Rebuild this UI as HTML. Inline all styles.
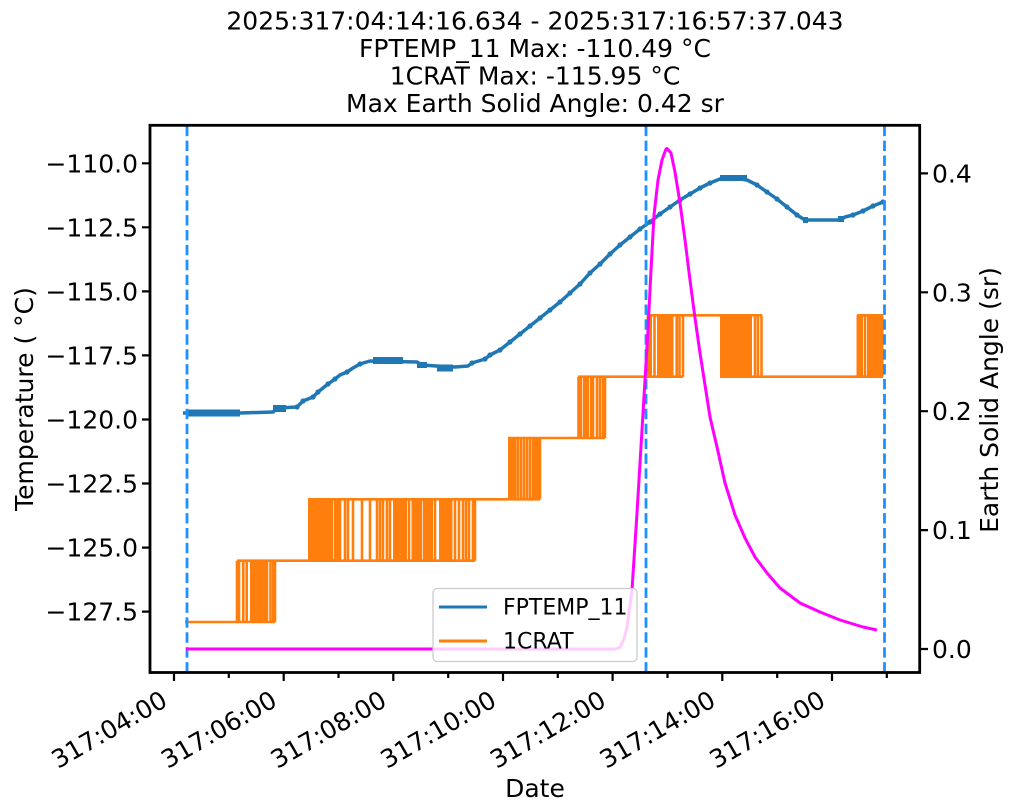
<!DOCTYPE html>
<html>
<head>
<meta charset="utf-8">
<style>
html,body{margin:0;padding:0;background:#fff;}
svg{display:block;}
text{font-family:"DejaVu Sans","Liberation Sans",sans-serif;fill:#000;}
</style>
</head>
<body>
<svg width="1011" height="811" viewBox="0 0 1011 811" xmlns="http://www.w3.org/2000/svg">
<rect x="0" y="0" width="1011" height="811" fill="#fff"/>

<!-- Title -->
<g font-size="25" text-anchor="middle">
<text x="535" y="29.5">2025:317:04:14:16.634 - 2025:317:16:57:37.043</text>
<text x="535" y="57">FPTEMP_11 Max: -110.49 °C</text>
<text x="535" y="84.5">1CRAT Max: -115.95 °C</text>
<text x="535" y="112">Max Earth Solid Angle: 0.42 sr</text>
</g>

<!-- FPTEMP_11 (blue) -->
<g fill="#1f77b4" stroke="none">
<rect x="188" y="409.5" width="52" height="7"/>
<rect x="273" y="405" width="13" height="7"/>
<rect x="373" y="357" width="30" height="7"/>
<rect x="417" y="362" width="10" height="6"/>
<rect x="437" y="364.5" width="16" height="7"/>
<rect x="720" y="175" width="27" height="6"/>
<rect x="803" y="217" width="5" height="6"/>
<rect x="838" y="216" width="6" height="6"/>
</g>
<polyline fill="none" stroke="#1f77b4" stroke-width="3.5" stroke-linejoin="round"
points="183,413 240,413 273,412 278,408 297,407 300,404 303,401 313,397 318,392 323,388 328,384 335,379 340,375 347,372 353,368 360,364 370,361 417,362 422,365 436,366 455,367 468,366 472,363 485,359 490,355 500,350 510,342 520,334 530,326 540,318 550,310 560,302 570,293 580,284 590,273 600,264 610,254 620,245 630,237 640,229 650,222 660,214 670,207 680,200 690,194 700,188 710,183 720,179 733,178 747,180 757,185 767,192 777,199 787,207 797,215 805,220 840,220 845,217 853,215 863,211 873,206 883,202"/>
<g fill="#1f77b4">
<circle cx="297" cy="407" r="2.6"/><circle cx="303" cy="401" r="2.6"/><circle cx="313" cy="397" r="2.6"/><circle cx="318" cy="392" r="2.6"/>
<circle cx="328" cy="384" r="2.6"/><circle cx="335" cy="379" r="2.6"/><circle cx="347" cy="372" r="2.6"/><circle cx="360" cy="364" r="2.6"/>
<circle cx="472" cy="363" r="2.6"/><circle cx="485" cy="359" r="2.6"/><circle cx="490" cy="355" r="2.6"/>
<circle cx="500" cy="350" r="2.6"/><circle cx="510" cy="342" r="2.6"/><circle cx="520" cy="334" r="2.6"/><circle cx="530" cy="326" r="2.6"/>
<circle cx="540" cy="318" r="2.6"/><circle cx="550" cy="310" r="2.6"/><circle cx="560" cy="302" r="2.6"/><circle cx="570" cy="293" r="2.6"/>
<circle cx="580" cy="284" r="2.6"/><circle cx="590" cy="273" r="2.6"/><circle cx="600" cy="264" r="2.6"/><circle cx="610" cy="254" r="2.6"/>
<circle cx="620" cy="245" r="2.6"/><circle cx="630" cy="237" r="2.6"/><circle cx="640" cy="229" r="2.6"/><circle cx="650" cy="222" r="2.6"/>
<circle cx="660" cy="214" r="2.6"/><circle cx="670" cy="207" r="2.6"/><circle cx="680" cy="200" r="2.6"/><circle cx="690" cy="194" r="2.6"/>
<circle cx="700" cy="188" r="2.6"/><circle cx="710" cy="183" r="2.6"/><circle cx="757" cy="185" r="2.6"/><circle cx="767" cy="192" r="2.6"/>
<circle cx="777" cy="199" r="2.6"/><circle cx="787" cy="207" r="2.6"/><circle cx="797" cy="215" r="2.6"/><circle cx="853" cy="215" r="2.6"/>
<circle cx="863" cy="211" r="2.6"/><circle cx="873" cy="206" r="2.6"/><circle cx="883" cy="202" r="2.6"/>
</g>

<!-- 1CRAT (orange) -->
<g stroke="#ff7f0e" stroke-width="2.6" fill="none">
<path d="M185,622 H275"/>
<path d="M237,560.7 H475"/>
<path d="M308,499.3 H540"/>
<path d="M508,438 H605"/>
<path d="M578,376.7 H683"/>
<path d="M647,315.3 H762"/>
<path d="M720,376.7 H883"/>
<path d="M857,315.3 H883"/>
<path d="M237,622 V560.7 M239,622 V560.7 M243.3,622 V560.7 M246.7,622 V560.7 M270.5,622 V560.7 M273.3,622 V560.7 M275,622 V560.7"/>
<path d="M335,560.7 V499.3 M337.5,560.7 V499.3 M340,560.7 V499.3 M345,560.7 V499.3 M348,560.7 V499.3 M353,560.7 V499.3 M362,560.7 V499.3 M370,560.7 V499.3 M377,560.7 V499.3 M380,560.7 V499.3 M383,560.7 V499.3 M387,560.7 V499.3 M390,560.7 V499.3 M409,560.7 V499.3 M421,560.7 V499.3 M435,560.7 V499.3 M455,560.7 V499.3 M459,560.7 V499.3 M463,560.7 V499.3 M466,560.7 V499.3 M469,560.7 V499.3 M473,560.7 V499.3 M475,560.7 V499.3"/>
<path d="M518,499.3 V438 M521,499.3 V438 M524,499.3 V438 M527,499.3 V438 M530,499.3 V438 M533,499.3 V438 M535.5,499.3 V438 M538,499.3 V438 M540,499.3 V438"/>
<path d="M578.5,438 V376.7 M581,438 V376.7 M591,438 V376.7 M593,438 V376.7 M597,438 V376.7 M600,438 V376.7 M603,438 V376.7 M605,438 V376.7"/>
<path d="M654.5,376.7 V315.3 M676.7,376.7 V315.3 M679.5,376.7 V315.3 M683,376.7 V315.3 M755,376.7 V315.3 M758,376.7 V315.3 M761.5,376.7 V315.3 M865,376.7 V315.3"/>
</g>
<g fill="#ff7f0e">
<rect x="250" y="560.7" width="18.3" height="61.3"/>
<rect x="308" y="499.3" width="25" height="61.4"/>
<rect x="393" y="499.3" width="14" height="61.4"/>
<rect x="411.5" y="499.3" width="8.5" height="61.4"/>
<rect x="423" y="499.3" width="10" height="61.4"/>
<rect x="439" y="499.3" width="13.5" height="61.4"/>
<rect x="508" y="438" width="8.5" height="61.3"/>
<rect x="583" y="376.7" width="6" height="61.3"/>
<rect x="646.5" y="315.3" width="5.5" height="61.4"/>
<rect x="657" y="315.3" width="16.5" height="61.4"/>
<rect x="720" y="315.3" width="32" height="61.4"/>
<rect x="856.5" y="315.3" width="6.5" height="61.4"/>
<rect x="867" y="315.3" width="16.5" height="61.4"/>
</g>

<!-- dashed vertical lines -->
<g stroke="#1e90ff" stroke-width="2.8" stroke-dasharray="10.4 4.5" fill="none">
<path d="M187,672.5 V125"/>
<path d="M646,672.5 V125"/>
<path d="M884.5,672.5 V125"/>
</g>

<!-- Earth solid angle (magenta) -->
<polyline fill="none" stroke="#ff00ff" stroke-width="3" stroke-linejoin="round"
points="186,649 615,649 620,647.3 624,639 627,627 632,590 637,513 642,430 645,380 648,330 651,270 654,215 658,180 662,160 666,149 667,148.5 671,153 675,172 680,203 685,240 690,280 695,318 700,353 705,385 710,417 717,447 725,483 735,515 745,538 755,557 767,573 780,588 800,603 820,612 840,620 863,627 877,630"/>

<!-- Axes frame -->
<rect x="150" y="125.3" width="769.7" height="547.2" fill="none" stroke="#000" stroke-width="2.8"/>

<g stroke="#000" stroke-width="2.2">
<path d="M142,163.3 H150 M142,227.3 H150 M142,291.4 H150 M142,355.4 H150 M142,419.5 H150 M142,483.5 H150 M142,547.6 H150 M142,611.6 H150"/>
<path d="M920,649 H928 M920,530.1 H928 M920,411.2 H928 M920,292.3 H928 M920,173.4 H928"/>
<path d="M174,672.5 V681 M283.7,672.5 V681 M393.3,672.5 V681 M503,672.5 V681 M612.6,672.5 V681 M722.3,672.5 V681 M832,672.5 V681"/>
<path d="M228.8,672.5 V678 M338.5,672.5 V678 M448.2,672.5 V678 M557.8,672.5 V678 M667.5,672.5 V678 M777.2,672.5 V678 M886.8,672.5 V678"/>
</g>

<g font-size="25" text-anchor="end">
<text x="138" y="172.3">−110.0</text>
<text x="138" y="236.3">−112.5</text>
<text x="138" y="300.4">−115.0</text>
<text x="138" y="364.4">−117.5</text>
<text x="138" y="428.5">−120.0</text>
<text x="138" y="492.5">−122.5</text>
<text x="138" y="556.6">−125.0</text>
<text x="138" y="620.6">−127.5</text>
</g>

<g font-size="25" text-anchor="start">
<text x="932" y="658">0.0</text>
<text x="932" y="539.1">0.1</text>
<text x="932" y="420.2">0.2</text>
<text x="932" y="301.3">0.3</text>
<text x="932" y="182.4">0.4</text>
</g>

<g font-size="25" text-anchor="end">
<text transform="translate(169,705) rotate(-30)">317:04:00</text>
<text transform="translate(278.7,705) rotate(-30)">317:06:00</text>
<text transform="translate(388.3,705) rotate(-30)">317:08:00</text>
<text transform="translate(498,705) rotate(-30)">317:10:00</text>
<text transform="translate(607.6,705) rotate(-30)">317:12:00</text>
<text transform="translate(717.3,705) rotate(-30)">317:14:00</text>
<text transform="translate(827,705) rotate(-30)">317:16:00</text>
</g>

<text x="535" y="797" font-size="25" text-anchor="middle">Date</text>
<text transform="translate(33,399) rotate(-90)" font-size="25" text-anchor="middle">Temperature ( °C)</text>
<text transform="translate(998,400) rotate(-90)" font-size="25" text-anchor="middle">Earth Solid Angle (sr)</text>

<rect x="433" y="588.5" width="204" height="73" rx="4" ry="4" fill="#fff" fill-opacity="0.8" stroke="#cccccc" stroke-width="1.3"/>
<path d="M439,607 H487" stroke="#1f77b4" stroke-width="3"/>
<path d="M439,641 H487" stroke="#ff7f0e" stroke-width="3"/>
<g font-size="22">
<text x="503" y="614.3">FPTEMP_11</text>
<text x="503" y="648.3">1CRAT</text>
</g>
</svg>
</body>
</html>
